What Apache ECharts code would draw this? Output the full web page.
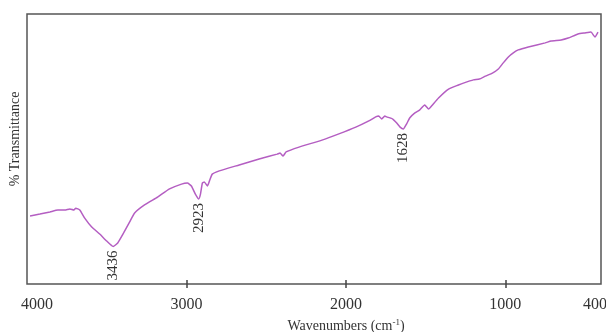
<!DOCTYPE html>
<html>
<head>
<meta charset="utf-8">
<style>
  html, body { margin: 0; padding: 0; background: #fff; }
  #chart { width: 606px; height: 332px; }
</style>
<script src="https://cdn.jsdelivr.net/npm/echarts@6/dist/echarts.min.js"></script>
</head>
<body>
<div id="chart"></div>
<script>
// spectrum (x = wavenumber, y = % transmittance, arbitrary scale)
var wavenumbers = [3981, 3919, 3856, 3806, 3763, 3731, 3706, 3694, 3669, 3638,
    3594, 3544, 3500, 3460, 3431, 3394, 3356, 3325, 3263, 3181,
    3106, 3031, 2994, 2969, 2944, 2923, 2912, 2900, 2888, 2869,
    2856, 2838, 2794, 2669, 2544, 2431, 2413, 2394, 2375, 2294,
    2150, 2044, 1938, 1856, 1813, 1794, 1775, 1756, 1744, 1706,
    1681, 1660, 1640, 1619, 1600, 1569, 1538, 1506, 1481, 1463,
    1419, 1356, 1294, 1263, 1200, 1163, 1125, 1081, 1044, 1013,
    981, 950, 919, 856, 750, 713, 650, 606, 544, 500,
    463, 438, 419];
var transmittance = [25.2, 25.9, 26.7, 27.4, 27.4, 27.8, 27.4, 28.1, 27.4, 24.4,
    21.1, 18.5, 15.9, 13.9, 15.2, 18.9, 23.0, 26.3, 29.3, 32.2,
    35.2, 37.0, 37.4, 36.3, 33.3, 31.5, 33.3, 37.4, 37.8, 36.3,
    38.1, 40.7, 41.9, 44.1, 46.3, 48.1, 48.5, 47.4, 48.9, 50.7,
    53.3, 55.6, 58.1, 60.4, 61.9, 62.2, 61.1, 62.2, 61.9, 61.1,
    59.6, 58.1, 57.4, 59.3, 61.5, 63.3, 64.4, 66.3, 64.8, 65.9,
    68.9, 72.2, 73.7, 74.4, 75.6, 75.9, 77.0, 78.1, 79.6, 81.9,
    84.1, 85.6, 86.7, 87.8, 89.3, 90.0, 90.4, 91.1, 92.6, 93.0,
    93.3, 91.5, 93.3];

var tickLabels = [4000, 3000, 2000, 1000, 400];
var tickMarks = [3000, 2000, 1000];
var peaks = [3436, 2923, 1628];

var font = 'Liberation Serif';

var seriesData = wavenumbers.map(function (w, i) { return [w, transmittance[i]]; });

// put each peak label on the lowest point of the data near its wavenumber
var peakPoints = peaks.map(function (p) {
    var best = null;
    seriesData.forEach(function (d) {
        if (Math.abs(d[0] - p) < 60 && (best === null || d[1] < best[1])) best = d;
    });
    return { name: String(p), coord: best };
});

var option = {
    animation: false,
    grid: {
        left: 27, top: 14, right: 5, bottom: 48,
        containLabel: false,
        outerBoundsMode: 'none',
        show: true,
        borderColor: '#555',
        borderWidth: 1.5
    },
    xAxis: {
        type: 'value',
        inverse: true,
        min: 400,
        max: 4000,
        offset: -4,
        axisLine: { show: false },
        axisTick: {
            show: true,
            inside: false,
            length: 8,
            customValues: tickMarks,
            lineStyle: { color: '#444', width: 1.5 }
        },
        axisLabel: {
            customValues: tickLabels,
            margin: 17,
            color: '#333',
            fontFamily: font,
            fontSize: 16,
            formatter: function (v) {
                if (v === 4000) return '{l|' + v + '}';
                if (v === 400) return '{r|' + v + '}';
                return String(v);
            },
            rich: {
                l: { fontFamily: font, fontSize: 16, color: '#333', padding: [0, 0, 0, 20] },
                r: { fontFamily: font, fontSize: 16, color: '#333', padding: [0, 12, 0, 0] }
            }
        },
        splitLine: { show: false },
        name: 'Wavenumbers (cm{sup|-1})',
        nameLocation: 'middle',
        nameGap: 35,
        nameTextStyle: {
            color: '#333',
            fontFamily: font,
            fontSize: 14,
            padding: [0, 0, 0, 64],
            rich: {
                sup: { fontFamily: font, fontSize: 9, color: '#333', padding: [0, 0, 7, 0] }
            }
        }
    },
    yAxis: {
        type: 'value',
        min: 0,
        max: 100,
        axisLine: { show: false },
        axisTick: { show: false },
        axisLabel: { show: false },
        splitLine: { show: false },
        name: '% Transmittance',
        nameLocation: 'middle',
        nameGap: 5,
        nameTextStyle: {
            color: '#333',
            fontFamily: font,
            fontSize: 14,
            padding: [0, 0, 0, 20]
        }
    },
    series: [{
        type: 'line',
        data: seriesData,
        showSymbol: false,
        smooth: 0.15,
        lineStyle: { color: '#b45ec2', width: 1.5 },
        markPoint: {
            symbol: 'circle',
            symbolSize: 0,
            label: {
                show: true,
                formatter: '{b}',
                position: 'bottom',
                distance: 4,
                rotate: 90,
                align: 'right',
                verticalAlign: 'middle',
                color: '#333',
                fontFamily: font,
                fontSize: 15
            },
            data: peakPoints
        }
    }]
};

var chart = echarts.init(document.getElementById('chart'));
chart.setOption(option);
</script>
</body>
</html>
